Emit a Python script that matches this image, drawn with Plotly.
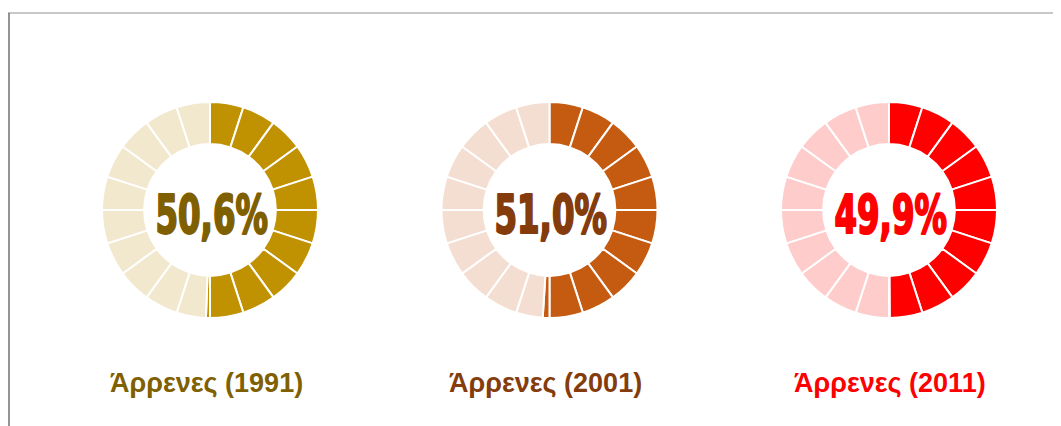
import plotly.graph_objects as go

# Data
labels = ["Άρρενες (1991)", "Άρρενες (2001)", "Άρρενες (2011)"]
values = [50.6, 51.0, 49.9]
value_text = ["50,6%", "51,0%", "49,9%"]
step = 5.0  # each ring segment represents 5%

dark_colors = ["#C09100", "#C55A11", "#FF0000"]
light_colors = ["#F2E8CE", "#F4DED2", "#FFCCCC"]
text_colors = ["#7F6000", "#843C0C", "#FF0000"]

OFF = 8  # browser body margin
W, H = 1061 - OFF, 426 - OFF
centers_x = [210, 549.5, 889]
label_x = [206.5, 545, 890]
center_y = 210
label_y = 383
radius = 108


def split(start, end, step):
    """Split interval [start, end] at multiples of step."""
    parts = []
    cur = start
    while cur < end - 1e-9:
        nxt = min((int(cur / step + 1e-9) + 1) * step, end)
        parts.append(round(nxt - cur, 6))
        cur = nxt
    return parts


def px(x):
    return (x - OFF) / W


def py(y):
    return (H - (y - OFF)) / H


fig = go.Figure()
for i, v in enumerate(values):
    dark = split(0, v, step)
    light = split(v, 100, step)
    vals = dark + light
    cols = [dark_colors[i]] * len(dark) + [light_colors[i]] * len(light)
    cx = centers_x[i]
    fig.add_trace(go.Pie(
        values=vals,
        sort=False,
        direction="clockwise",
        rotation=0,
        hole=0.61,
        marker=dict(colors=cols, line=dict(color="white", width=2)),
        textinfo="none",
        hoverinfo="none",
        showlegend=False,
        domain=dict(
            x=[px(cx - radius), px(cx + radius)],
            y=[py(center_y + radius), py(center_y - radius)],
        ),
    ))
    fig.add_annotation(
        x=px(cx + 1), y=py(center_y + 4), xref="paper", yref="paper",
        text=value_text[i], showarrow=False,
        font=dict(family="DejaVu Sans Condensed, DejaVu Sans, sans-serif",
                  size=53, color=text_colors[i], weight="bold"),
        xanchor="center", yanchor="middle",
    )
    fig.add_annotation(
        x=px(label_x[i]), y=py(label_y), xref="paper", yref="paper",
        text="<b>" + labels[i] + "</b>", showarrow=False,
        font=dict(family="Liberation Sans, Arial, sans-serif", size=27, color=text_colors[i]),
        xanchor="center", yanchor="middle",
    )

# frame lines
fig.add_shape(type="line", xref="paper", yref="paper",
              x0=px(8), x1=1.0, y0=py(13), y1=py(13),
              line=dict(color="#C8C8C8", width=2))
fig.add_shape(type="line", xref="paper", yref="paper",
              x0=px(9), x1=px(9), y0=0, y1=py(13),
              line=dict(color="#707070", width=1.5))

fig.update_layout(
    width=W, height=H,
    margin=dict(l=0, r=0, t=0, b=0),
    paper_bgcolor="white", plot_bgcolor="white",
)

# condense (and embolden) the big percentage figures: the original uses a heavy condensed display face
post = """
document.querySelectorAll('.annotation-text').forEach(function(t){
  if (t.textContent.indexOf('%') >= 0) {
    var c = window.getComputedStyle(t).fill;
    t.style.stroke = c;
    t.style.strokeWidth = '2.2px';
    t.style.strokeLinejoin = 'round';
    t.style.transformBox = 'fill-box';
    t.style.transformOrigin = 'center';
    t.style.transform = 'scaleX(0.68)';
  }
});
"""
fig.write_html("out.html", post_script=post)
